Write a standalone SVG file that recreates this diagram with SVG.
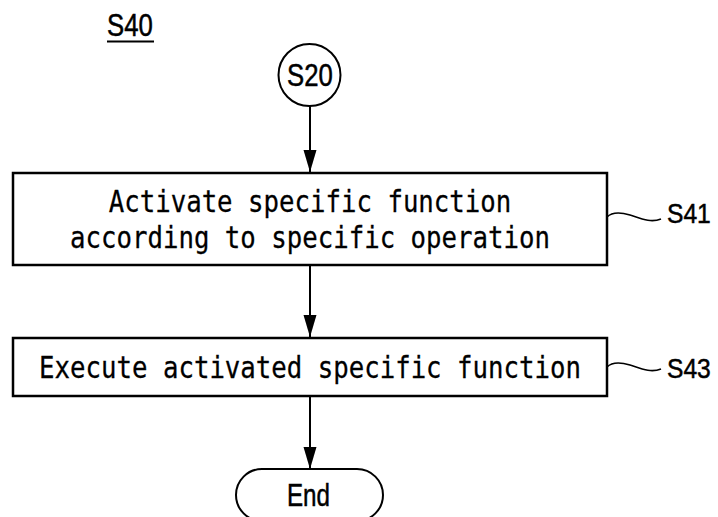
<svg xmlns="http://www.w3.org/2000/svg" width="718" height="517" viewBox="0 0 718 517">
  <style>
    .box { fill: #fff; stroke: #000; stroke-width: 2.5; }
    .term { fill: #fff; stroke: #000; stroke-width: 2; }
    .step { font-family: "DejaVu Sans Mono", "Liberation Mono", monospace; font-size: 31px; fill: #000; stroke: #000; stroke-width: 0.3; text-anchor: middle; }
    .lbl { font-family: "Liberation Sans", Arial, sans-serif; font-size: 31px; fill: #000; stroke: #000; stroke-width: 0.5; }
    .tag { font-family: "Liberation Sans", Arial, sans-serif; font-size: 28px; fill: #000; stroke: #000; stroke-width: 0.5; }
    .flow { fill: none; stroke: #000; stroke-width: 2; }
    .lead { fill: none; stroke: #000; stroke-width: 1.6; }
  </style>
  <defs>
    <marker id="arrow" markerUnits="userSpaceOnUse" markerWidth="22" markerHeight="14" refX="22" refY="7" orient="auto">
      <path d="M0,0.5 L22,7 L0,13.5 z" fill="#000"/>
    </marker>
  </defs>

  <rect width="718" height="517" fill="#fff"/>

  <!-- figure label -->
  <g id="title">
    <text class="lbl" transform="translate(107,36) scale(0.83,1)">S40</text>
    <line x1="107" y1="41.5" x2="154" y2="41.5" stroke="#000" stroke-width="2.2"/>
  </g>

  <!-- connectors -->
  <g id="connectors">
    <line class="flow" x1="310" y1="106" x2="310" y2="172" marker-end="url(#arrow)"/>
    <line class="flow" x1="310" y1="266" x2="310" y2="337" marker-end="url(#arrow)"/>
    <line class="flow" x1="310" y1="397" x2="310" y2="469" marker-end="url(#arrow)"/>
  </g>

  <!-- off-page connector from S20 -->
  <g id="s20">
    <circle cx="309.5" cy="75" r="31" fill="#fff" stroke="#000" stroke-width="2"/>
    <text class="lbl" transform="translate(287,86) scale(0.83,1)">S20</text>
  </g>

  <!-- step S41 -->
  <g id="s41">
    <rect class="box" x="13" y="173" width="594" height="92"/>
    <text class="step" transform="translate(310,212) scale(0.83,1)">Activate specific function</text>
    <text class="step" transform="translate(310,248) scale(0.83,1)">according to specific operation</text>
    <path class="lead" d="M607,217 C612,212 620,212 630,215 C642,219 651,223 661,219"/>
    <text class="tag" transform="translate(667,223) scale(0.88,1)">S41</text>
  </g>

  <!-- step S43 -->
  <g id="s43">
    <rect class="box" x="13" y="338" width="594" height="58"/>
    <text class="step" transform="translate(310,378) scale(0.83,1)">Execute activated specific function</text>
    <path class="lead" d="M607,367 C612,362 620,362 630,365 C642,369 651,373 661,369"/>
    <text class="tag" transform="translate(667,378) scale(0.88,1)">S43</text>
  </g>

  <!-- terminator -->
  <g id="end">
    <rect class="term" x="236" y="469" width="147" height="52" rx="26" ry="26"/>
    <text class="lbl" transform="translate(287,506) scale(0.78,1)">End</text>
  </g>
</svg>
